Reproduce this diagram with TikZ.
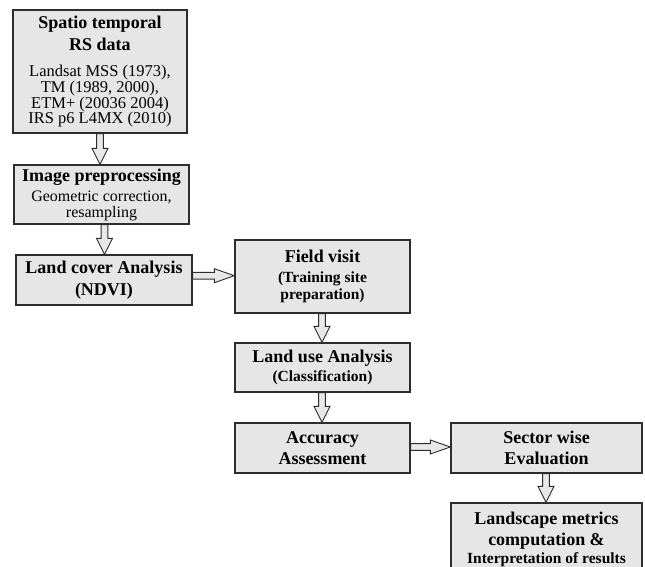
\documentclass[tikz,border=0pt]{standalone}
\usepackage{fontspec}
\setmainfont{Liberation Serif}
\usetikzlibrary{calc}
\definecolor{boxfill}{RGB}{230,230,231}
\definecolor{boxline}{RGB}{45,45,45}
\definecolor{arrfill}{RGB}{232,232,233}
\newcommand\ttl[1]{{\fontsize{18}{21}\selectfont\bfseries #1}}
\newcommand\dtl[1]{{\fontsize{16.5}{16}\selectfont #1}}
\newcommand\varrowblk[3]{%
  \draw[blk] let \p1=(#1.south), \p2=(#2.north), \p3=(#3,0) in
    (\x3-3.4pt,\y1) -- (\x3-3.4pt,\y2+16pt) -- (\x3-8pt,\y2+16pt) -- (\x3,\y2)
    -- (\x3+8pt,\y2+16pt) -- (\x3+3.4pt,\y2+16pt) -- (\x3+3.4pt,\y1) -- cycle;}
\newcommand\harrowblk[3]{%
  \draw[blk] let \p1=(#1.east), \p2=(#2.west), \p3=(0,#3) in
    (\x1,\y3+3.4pt) -- (\x2-20pt,\y3+3.4pt) -- (\x2-20pt,\y3+7pt) -- (\x2,\y3)
    -- (\x2-20pt,\y3-7pt) -- (\x2-20pt,\y3-3.4pt) -- (\x1,\y3-3.4pt) -- cycle;}
\begin{document}
\begin{tikzpicture}[x=1pt,y=-1pt,
  box/.style={draw=boxline, fill=boxfill, line width=1.3pt, inner sep=0pt, align=center},
  blk/.style={draw=boxline, fill=arrfill, line width=0.9pt, line join=miter}]
\useasboundingbox (0,0) rectangle (645,566);
\clip (0,0) rectangle (645,566);
\fill[white] (0,0) rectangle (645,566);

\node[box, minimum width=174pt, minimum height=123pt, font=\fontsize{16}{15.7}\selectfont] (rs) at (100,71.5)
  {\ttl{Spatio temporal}\\[5.3pt]
   \ttl{RS data}\\[10.3pt]
   \dtl{Landsat MSS (1973),}\\ \dtl{TM (1989, 2000),}\\ \dtl{ETM+ (20036 2004)}\\ \dtl{IRS p6 L4MX (2010)}};

\node[box, minimum width=175pt, minimum height=59pt, font=\fontsize{16}{16}\selectfont] (pre) at (101.5,194.5)
  {\ttl{Image preprocessing}\\[4pt]
   Geometric correction,\\ resampling};

\node[box, minimum width=176pt, minimum height=50pt, font=\fontsize{18}{22}\selectfont\bfseries] (lc) at (104,280)
  {Land cover Analysis\\ (NDVI)};

\node[box, minimum width=175pt, minimum height=73pt, font=\fontsize{15.5}{16.5}\selectfont\bfseries] (fv) at (322.5,276.5)
  {\ttl{Field visit}\\[3.5pt] (Training site\\ preparation)};

\node[box, minimum width=175pt, minimum height=49pt, font=\fontsize{15.5}{19}\selectfont\bfseries] (lu) at (322.5,367.5)
  {\ttl{Land use Analysis}\\ (Classification)};

\node[box, minimum width=175pt, minimum height=50pt, font=\fontsize{18}{21}\selectfont\bfseries] (acc) at (322.5,448)
  {Accuracy\\ Assessment};

\node[box, minimum width=191pt, minimum height=50pt, font=\fontsize{18}{21}\selectfont\bfseries] (sec) at (546.5,448)
  {Sector wise\\ Evaluation};

\node[box, minimum width=191pt, minimum height=72pt, font=\fontsize{15.5}{18}\selectfont\bfseries] (lm) at (546.5,539)
  {\ttl{Landscape metrics}\\[3pt] \ttl{computation \&}\\ Interpretation of results};

\varrowblk{rs}{pre}{100}
\varrowblk{pre}{lc}{104.5}
\harrowblk{lc}{fv}{275.7}
\varrowblk{fv}{lu}{322}
\varrowblk{lu}{acc}{322}
\harrowblk{acc}{sec}{447}
\varrowblk{sec}{lm}{546}
\end{tikzpicture}
\end{document}
